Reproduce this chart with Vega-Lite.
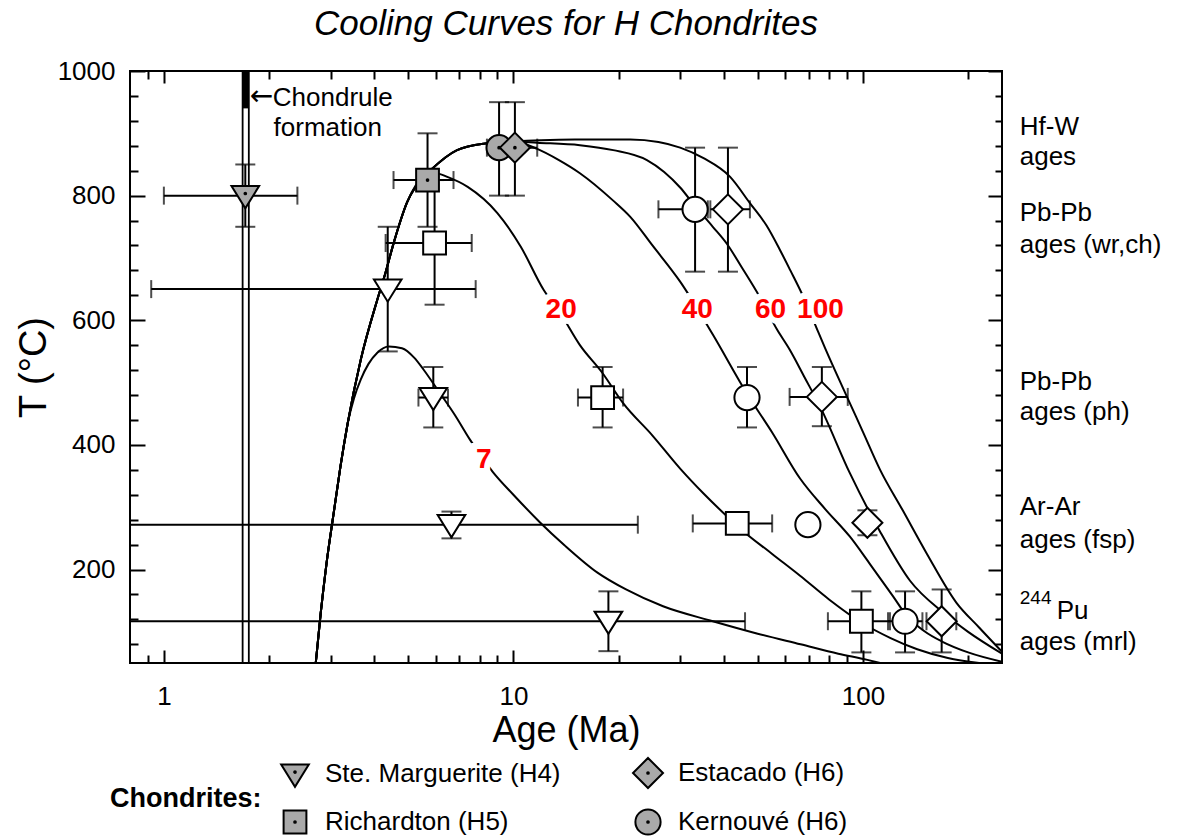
{
 "$schema": "https://vega.github.io/schema/vega-lite/v6.json",
 "width": 872,
 "height": 592,
 "autosize": {"type": "none"},
 "padding": {"left": 130, "top": 71, "right": 180, "bottom": 177},
 "background": "white",
 "title": {"text": "Cooling Curves for H Chondrites", "fontSize": 35, "fontStyle": "italic", "fontWeight": "normal", "font": "Liberation Sans", "color": "black", "anchor": "middle", "offset": 16},
 "datasets": {
  "curves": [
   {"c":"7","age":2.72,"T":50},{"c":"7","age":2.81,"T":130},{"c":"7","age":2.92,"T":210},{"c":"7","age":3.06,"T":290},{"c":"7","age":3.2,"T":365},{"c":"7","age":3.36,"T":436},
   {"c":"7","age":3.5,"T":475},{"c":"7","age":3.66,"T":505},{"c":"7","age":3.85,"T":530},{"c":"7","age":4.08,"T":548},{"c":"7","age":4.4,"T":558},{"c":"7","age":4.8,"T":555},{"c":"7","age":5.2,"T":540},{"c":"7","age":5.53,"T":521},{"c":"7","age":6.06,"T":489},{"c":"7","age":6.8,"T":448},{"c":"7","age":7.52,"T":408},{"c":"7","age":8.75,"T":356},{"c":"7","age":10,"T":320},{"c":"7","age":11.9,"T":276},{"c":"7","age":14,"T":239},{"c":"7","age":17.4,"T":195},{"c":"7","age":21,"T":168},{"c":"7","age":26.8,"T":141},{"c":"7","age":37.2,"T":117},{"c":"7","age":50,"T":97},{"c":"7","age":66.3,"T":80},{"c":"7","age":85,"T":65},{"c":"7","age":103,"T":55},{"c":"7","age":112,"T":50},
   {"c":"20","age":2.72,"T":50},{"c":"20","age":2.81,"T":130},{"c":"20","age":2.92,"T":210},{"c":"20","age":3.06,"T":290},{"c":"20","age":3.2,"T":365},{"c":"20","age":3.36,"T":436},
   {"c":"20","age":3.66,"T":537},{"c":"20","age":4.08,"T":633},{"c":"20","age":4.3,"T":675},{"c":"20","age":4.55,"T":725},{"c":"20","age":4.97,"T":790},{"c":"20","age":5.54,"T":830},
   {"c":"20","age":6.0,"T":836},{"c":"20","age":6.47,"T":830},{"c":"20","age":7.4,"T":814},{"c":"20","age":9,"T":772},{"c":"20","age":10.5,"T":718},{"c":"20","age":12.2,"T":649},{"c":"20","age":13.6,"T":612},{"c":"20","age":15.5,"T":560},{"c":"20","age":18,"T":515},{"c":"20","age":20.6,"T":467},{"c":"20","age":25,"T":415},{"c":"20","age":30,"T":362},{"c":"20","age":35,"T":322},{"c":"20","age":40.9,"T":285},{"c":"20","age":44.5,"T":266},{"c":"20","age":55,"T":225},{"c":"20","age":66.1,"T":190},{"c":"20","age":80,"T":152},{"c":"20","age":99,"T":115},{"c":"20","age":120,"T":90},{"c":"20","age":143,"T":72},{"c":"20","age":175,"T":58},{"c":"20","age":215,"T":50},
   {"c":"40","age":2.72,"T":50},{"c":"40","age":2.81,"T":130},{"c":"40","age":2.92,"T":210},{"c":"40","age":3.06,"T":290},{"c":"40","age":3.2,"T":365},{"c":"40","age":3.36,"T":436},
   {"c":"40","age":3.66,"T":537},{"c":"40","age":4.08,"T":633},{"c":"40","age":4.3,"T":675},{"c":"40","age":4.55,"T":725},{"c":"40","age":4.97,"T":790},{"c":"40","age":5.54,"T":830},
   {"c":"40","age":5.8,"T":841},{"c":"40","age":6.9,"T":873},{"c":"40","age":8.4,"T":884},{"c":"40","age":10,"T":887},
   {"c":"40","age":11.7,"T":875},{"c":"40","age":13.5,"T":857},{"c":"40","age":15.5,"T":836},{"c":"40","age":19.3,"T":792},{"c":"40","age":21.6,"T":766},{"c":"40","age":25,"T":720},{"c":"40","age":30,"T":662},{"c":"40","age":37.2,"T":577},{"c":"40","age":46.6,"T":482},{"c":"40","age":55,"T":420},{"c":"40","age":66.1,"T":346},{"c":"40","age":78,"T":297},{"c":"40","age":91.7,"T":253},{"c":"40","age":105,"T":208},{"c":"40","age":122,"T":157},{"c":"40","age":133,"T":127},{"c":"40","age":150,"T":101},{"c":"40","age":169,"T":84},{"c":"40","age":200,"T":67},{"c":"40","age":250,"T":52},
   {"c":"60","age":2.72,"T":50},{"c":"60","age":2.81,"T":130},{"c":"60","age":2.92,"T":210},{"c":"60","age":3.06,"T":290},{"c":"60","age":3.2,"T":365},{"c":"60","age":3.36,"T":436},
   {"c":"60","age":3.66,"T":537},{"c":"60","age":4.08,"T":633},{"c":"60","age":4.3,"T":675},{"c":"60","age":4.55,"T":725},{"c":"60","age":4.97,"T":790},{"c":"60","age":5.54,"T":830},
   {"c":"60","age":5.8,"T":841},{"c":"60","age":6.9,"T":873},{"c":"60","age":8.4,"T":884},{"c":"60","age":10,"T":887},
   {"c":"60","age":11.7,"T":885},{"c":"60","age":15.5,"T":881},{"c":"60","age":19.3,"T":873},{"c":"60","age":24.1,"T":857},{"c":"60","age":27,"T":838},{"c":"60","age":30,"T":813},{"c":"60","age":33,"T":784},{"c":"60","age":37.2,"T":750},{"c":"60","age":40.9,"T":722},{"c":"60","age":45,"T":685},{"c":"60","age":50.6,"T":638},{"c":"60","age":56.8,"T":585},{"c":"60","age":61.7,"T":553},{"c":"60","age":68,"T":509},{"c":"60","age":75.5,"T":461},{"c":"60","age":91.7,"T":355},{"c":"60","age":111.7,"T":262},{"c":"60","age":136.4,"T":182},{"c":"60","age":169.6,"T":131},{"c":"60","age":200,"T":100},{"c":"60","age":250,"T":65},
   {"c":"100","age":2.72,"T":50},{"c":"100","age":2.81,"T":130},{"c":"100","age":2.92,"T":210},{"c":"100","age":3.06,"T":290},{"c":"100","age":3.2,"T":365},{"c":"100","age":3.36,"T":436},
   {"c":"100","age":3.66,"T":537},{"c":"100","age":4.08,"T":633},{"c":"100","age":4.3,"T":675},{"c":"100","age":4.55,"T":725},{"c":"100","age":4.97,"T":790},{"c":"100","age":5.54,"T":830},
   {"c":"100","age":5.8,"T":841},{"c":"100","age":6.9,"T":873},{"c":"100","age":8.4,"T":884},{"c":"100","age":10,"T":887},
   {"c":"100","age":12,"T":889},{"c":"100","age":15,"T":890},{"c":"100","age":21.6,"T":890},{"c":"100","age":26,"T":886},{"c":"100","age":30,"T":877},{"c":"100","age":35,"T":860},{"c":"100","age":41.7,"T":830},{"c":"100","age":47.5,"T":788},{"c":"100","age":53,"T":752},{"c":"100","age":58,"T":712},{"c":"100","age":62,"T":680},{"c":"100","age":67.5,"T":638},{"c":"100","age":74,"T":585},{"c":"100","age":78,"T":555},{"c":"100","age":89.9,"T":478},{"c":"100","age":100,"T":421},{"c":"100","age":112,"T":360},{"c":"100","age":130,"T":295},{"c":"100","age":152.5,"T":225},{"c":"100","age":185,"T":147},{"c":"100","age":215,"T":107},{"c":"100","age":250,"T":68}
  ],
  "pts": [
   {"chond":"Ste. Marguerite (H4)","kind":"gray","age":1.71,"T":800,"alo":1.0,"ahi":2.41,"tlo":750,"thi":850},
   {"chond":"Ste. Marguerite (H4)","kind":"open","age":4.37,"T":650,"alo":0.92,"ahi":7.8,"tlo":550,"thi":750},
   {"chond":"Ste. Marguerite (H4)","kind":"open","age":5.9,"T":476,"alo":5.35,"ahi":6.5,"tlo":428,"thi":525},
   {"chond":"Ste. Marguerite (H4)","kind":"open","age":6.65,"T":272,"alo":0.5,"ahi":22.7,"tlo":250,"thi":293},
   {"chond":"Ste. Marguerite (H4)","kind":"open","age":18.7,"T":117,"alo":0.5,"ahi":46,"tlo":69,"thi":165},
   {"chond":"Richardton (H5)","kind":"gray","age":5.68,"T":825,"alo":4.54,"ahi":6.74,"tlo":750,"thi":900},
   {"chond":"Richardton (H5)","kind":"open","age":5.95,"T":724,"alo":4.31,"ahi":7.6,"tlo":625,"thi":825},
   {"chond":"Richardton (H5)","kind":"open","age":18,"T":476,"alo":15.3,"ahi":20.6,"tlo":428,"thi":525},
   {"chond":"Richardton (H5)","kind":"open","age":43.7,"T":274,"alo":32.6,"ahi":55,"tlo":null,"thi":null},
   {"chond":"Richardton (H5)","kind":"open","age":99,"T":117,"alo":79.4,"ahi":119.5,"tlo":67,"thi":165},
   {"chond":"Kernouvé (H6)","kind":"gray","age":9.1,"T":877,"alo":8.4,"ahi":10.2,"tlo":800,"thi":950},
   {"chond":"Kernouvé (H6)","kind":"open","age":33.1,"T":778,"alo":26,"ahi":36,"tlo":678,"thi":877},
   {"chond":"Kernouvé (H6)","kind":"open","age":46.6,"T":476,"alo":null,"ahi":null,"tlo":428,"thi":525},
   {"chond":"Kernouvé (H6)","kind":"open","age":69.6,"T":272,"alo":null,"ahi":null,"tlo":null,"thi":null},
   {"chond":"Kernouvé (H6)","kind":"open","age":132,"T":117,"alo":118,"ahi":148,"tlo":67,"thi":165},
   {"chond":"Estacado (H6)","kind":"gray","age":10.1,"T":877,"alo":9.0,"ahi":11.7,"tlo":800,"thi":950},
   {"chond":"Estacado (H6)","kind":"open","age":41.1,"T":778,"alo":36.6,"ahi":47.5,"tlo":678,"thi":877},
   {"chond":"Estacado (H6)","kind":"open","age":76.3,"T":477,"alo":61.7,"ahi":90.5,"tlo":430,"thi":525},
   {"chond":"Estacado (H6)","kind":"open","age":103,"T":275,"alo":null,"ahi":null,"tlo":255,"thi":295},
   {"chond":"Estacado (H6)","kind":"open","age":168,"T":117,"alo":152,"ahi":185,"tlo":67,"thi":168}
  ],
  "chondrule": [{"age":1.68},{"age":1.75}],
  "chondband": [{"age":1.715,"T":940,"T2":1000}],
  "curvelabels": [
   {"text":"7","age":8.23,"T":376},
   {"text":"20","age":13.7,"T":617},
   {"text":"40","age":33.6,"T":617},
   {"text":"60","age":54.4,"T":617},
   {"text":"100","age":75.6,"T":617}
  ],
  "chondtext": [
   {"text":"Chondrule","kind":"word","age":2.05,"T":957},
   {"text":"formation","kind":"word","age":2.06,"T":909},
   {"text":"←","kind":"arrow","age":1.76,"T":959}
  ],
  "notes": [
   {"text":"Hf-W","kind":"main","age":281,"T":910},
   {"text":"ages","kind":"main","age":281,"T":862},
   {"text":"Pb-Pb","kind":"main","age":281,"T":772},
   {"text":"ages (wr,ch)","kind":"main","age":281,"T":721},
   {"text":"Pb-Pb","kind":"main","age":281,"T":501},
   {"text":"ages (ph)","kind":"main","age":281,"T":452},
   {"text":"Ar-Ar","kind":"main","age":281,"T":301},
   {"text":"ages (fsp)","kind":"main","age":281,"T":248},
   {"text":"244","kind":"sup","age":281,"T":154},
   {"text":"Pu","kind":"pu","age":281,"T":134},
   {"text":"ages (mrl)","kind":"main","age":281,"T":83}
  ]
 },
 "layer": [
  {
   "data": {"name": "chondrule"},
   "mark": {"type": "rule", "color": "black", "strokeWidth": 1.8},
   "encoding": {
    "x": {"field": "age", "type": "quantitative", "scale": {"type": "log", "domain": [0.8, 250], "nice": false}, "axis": null}
   }
  },
  {
   "data": {"name": "chondband"},
   "mark": {"type": "rule", "color": "black", "strokeWidth": 6},
   "encoding": {
    "x": {"field": "age", "type": "quantitative", "scale": {"type": "log", "domain": [0.8, 250], "nice": false}, "axis": null},
    "y": {"field": "T", "type": "quantitative", "scale": {"domain": [50, 1000], "nice": false, "zero": false}, "axis": null},
    "y2": {"field": "T2"}
   }
  },
  {
   "data": {"name": "curves"},
   "mark": {"type": "line", "interpolate": "monotone", "color": "black", "strokeWidth": 2, "clip": true},
   "encoding": {
    "x": {"field": "age", "type": "quantitative", "scale": {"type": "log", "domain": [0.8, 250], "nice": false},
     "axis": {"orient": "bottom", "values": [1, 10, 100], "format": "d", "ticks": false,
      "labelOverlap": false, "labelFlush": false, "labelFontSize": 26, "labelPadding": 20,
      "title": "Age (Ma)", "titleFontSize": 36, "titlePadding": 4}},
    "y": {"field": "T", "type": "quantitative", "scale": {"domain": [50, 1000], "nice": false, "zero": false},
     "axis": {"orient": "left", "values": [200, 400, 600, 800, 1000], "format": "d", "ticks": false,
      "labelOverlap": false, "labelFlush": false, "labelFontSize": 26, "labelPadding": 15,
      "title": "T (°C)", "titleFontSize": 38, "titlePadding": 4}},
    "detail": {"field": "c"}
   }
  },
  {
   "data": {"name": "pts"},
   "transform": [{"filter": "datum.alo != null"}],
   "mark": {"type": "rule", "color": "black", "strokeWidth": 2, "clip": true},
   "encoding": {
    "x": {"field": "alo", "type": "quantitative", "scale": {"type": "log", "domain": [0.8, 250], "nice": false}, "axis": null},
    "x2": {"field": "ahi"},
    "y": {"field": "T", "type": "quantitative", "scale": {"domain": [50, 1000], "nice": false, "zero": false}, "axis": null}
   }
  },
  {
   "data": {"name": "pts"},
   "transform": [{"filter": "datum.alo != null"}],
   "mark": {"type": "tick", "orient": "vertical", "color": "black", "size": 18, "thickness": 2, "clip": true},
   "encoding": {
    "x": {"field": "alo", "type": "quantitative", "scale": {"type": "log", "domain": [0.8, 250], "nice": false}, "axis": null},
    "y": {"field": "T", "type": "quantitative", "scale": {"domain": [50, 1000], "nice": false, "zero": false}, "axis": null}
   }
  },
  {
   "data": {"name": "pts"},
   "transform": [{"filter": "datum.ahi != null"}],
   "mark": {"type": "tick", "orient": "vertical", "color": "black", "size": 18, "thickness": 2, "clip": true},
   "encoding": {
    "x": {"field": "ahi", "type": "quantitative", "scale": {"type": "log", "domain": [0.8, 250], "nice": false}, "axis": null},
    "y": {"field": "T", "type": "quantitative", "scale": {"domain": [50, 1000], "nice": false, "zero": false}, "axis": null}
   }
  },
  {
   "data": {"name": "pts"},
   "transform": [{"filter": "datum.tlo != null"}],
   "mark": {"type": "rule", "color": "black", "strokeWidth": 2, "clip": true},
   "encoding": {
    "x": {"field": "age", "type": "quantitative", "scale": {"type": "log", "domain": [0.8, 250], "nice": false}, "axis": null},
    "y": {"field": "tlo", "type": "quantitative", "scale": {"domain": [50, 1000], "nice": false, "zero": false}, "axis": null},
    "y2": {"field": "thi"}
   }
  },
  {
   "data": {"name": "pts"},
   "transform": [{"filter": "datum.tlo != null"}],
   "mark": {"type": "tick", "orient": "horizontal", "color": "black", "size": 20, "thickness": 2, "clip": true},
   "encoding": {
    "x": {"field": "age", "type": "quantitative", "scale": {"type": "log", "domain": [0.8, 250], "nice": false}, "axis": null},
    "y": {"field": "tlo", "type": "quantitative", "scale": {"domain": [50, 1000], "nice": false, "zero": false}, "axis": null}
   }
  },
  {
   "data": {"name": "pts"},
   "transform": [{"filter": "datum.thi != null"}],
   "mark": {"type": "tick", "orient": "horizontal", "color": "black", "size": 20, "thickness": 2, "clip": true},
   "encoding": {
    "x": {"field": "age", "type": "quantitative", "scale": {"type": "log", "domain": [0.8, 250], "nice": false}, "axis": null},
    "y": {"field": "thi", "type": "quantitative", "scale": {"domain": [50, 1000], "nice": false, "zero": false}, "axis": null}
   }
  },
  {
   "data": {"name": "pts"},
   "transform": [{"filter": "datum.kind == 'open'"}],
   "mark": {"type": "point", "filled": true, "fill": "white", "stroke": "black", "strokeWidth": 2, "size": 576, "opacity": 1},
   "encoding": {
    "x": {"field": "age", "type": "quantitative", "scale": {"type": "log", "domain": [0.8, 250], "nice": false}, "axis": null},
    "y": {"field": "T", "type": "quantitative", "scale": {"domain": [50, 1000], "nice": false, "zero": false}, "axis": null},
    "shape": {"field": "chond", "type": "nominal", "legend": null,
     "scale": {"domain": ["Ste. Marguerite (H4)", "Estacado (H6)", "Richardton (H5)", "Kernouvé (H6)"],
      "range": ["M-1.15,-0.8L1.15,-0.8L0,1.05Z", "M0,-1.25L1.25,0L0,1.25L-1.25,0Z", "M-0.95,-0.95L0.95,-0.95L0.95,0.95L-0.95,0.95Z", "M-1.05,0A1.05,1.05 0 1,0 1.05,0A1.05,1.05 0 1,0 -1.05,0Z"]}}
   }
  },
  {
   "data": {"name": "pts"},
   "transform": [{"filter": "datum.kind == 'gray'"}],
   "mark": {"type": "point", "filled": true, "fill": "#a9a9a9", "stroke": "black", "strokeWidth": 2, "size": 576, "opacity": 1},
   "encoding": {
    "x": {"field": "age", "type": "quantitative", "scale": {"type": "log", "domain": [0.8, 250], "nice": false}, "axis": null},
    "y": {"field": "T", "type": "quantitative", "scale": {"domain": [50, 1000], "nice": false, "zero": false}, "axis": null},
    "shape": {"field": "chond", "type": "nominal",
     "scale": {"domain": ["Ste. Marguerite (H4)", "Estacado (H6)", "Richardton (H5)", "Kernouvé (H6)"],
      "range": ["M-1.15,-0.8L1.15,-0.8L0,1.05Z M-0.07,-0.18A0.07,0.07 0 1,0 0.07,-0.18A0.07,0.07 0 1,0 -0.07,-0.18Z", "M0,-1.25L1.25,0L0,1.25L-1.25,0Z M-0.07,0A0.07,0.07 0 1,0 0.07,0A0.07,0.07 0 1,0 -0.07,0Z", "M-0.95,-0.95L0.95,-0.95L0.95,0.95L-0.95,0.95Z M-0.07,0A0.07,0.07 0 1,0 0.07,0A0.07,0.07 0 1,0 -0.07,0Z", "M-1.05,0A1.05,1.05 0 1,0 1.05,0A1.05,1.05 0 1,0 -1.05,0Z M-0.07,0A0.07,0.07 0 1,0 0.07,0A0.07,0.07 0 1,0 -0.07,0Z"]},
     "legend": {"orient": "none", "legendX": -20, "legendY": 689, "direction": "horizontal", "columns": 2,
      "title": "Chondrites:", "titleOrient": "left", "titleFontSize": 27, "titleFontWeight": "bold", "titleColor": "black",
      "titleAnchor": "middle", "titleBaseline": "middle", "titlePadding": 20,
      "labelFontSize": 26, "labelColor": "black", "labelOffset": 17, "labelLimit": 400,
      "columnPadding": 68, "rowPadding": 13, "symbolSize": 576, "symbolStrokeWidth": 2,
      "encode": {"symbols": {"update": {"fill": {"value": "#a9a9a9"}, "stroke": {"value": "black"}, "strokeWidth": {"value": 2}, "opacity": {"value": 1}, "size": {"value": 576}}}}}}
   }
  },
  {
   "data": {"name": "curvelabels"},
   "mark": {"type": "text", "fontSize": 28, "fontWeight": "bold", "fill": "white", "stroke": "white", "strokeWidth": 12, "align": "center", "baseline": "middle"},
   "encoding": {
    "x": {"field": "age", "type": "quantitative", "scale": {"type": "log", "domain": [0.8, 250], "nice": false}, "axis": null},
    "y": {"field": "T", "type": "quantitative", "scale": {"domain": [50, 1000], "nice": false, "zero": false}, "axis": null},
    "text": {"field": "text"}
   }
  },
  {
   "data": {"name": "curvelabels"},
   "mark": {"type": "text", "fontSize": 28, "fontWeight": "bold", "color": "#ff0000", "align": "center", "baseline": "middle"},
   "encoding": {
    "x": {"field": "age", "type": "quantitative", "scale": {"type": "log", "domain": [0.8, 250], "nice": false}, "axis": null},
    "y": {"field": "T", "type": "quantitative", "scale": {"domain": [50, 1000], "nice": false, "zero": false}, "axis": null},
    "text": {"field": "text"}
   }
  },
  {
   "data": {"name": "chondtext"},
   "transform": [{"filter": "datum.kind == 'word'"}],
   "mark": {"type": "text", "fontSize": 26, "color": "black", "align": "left", "baseline": "middle"},
   "encoding": {
    "x": {"field": "age", "type": "quantitative", "scale": {"type": "log", "domain": [0.8, 250], "nice": false}, "axis": null},
    "y": {"field": "T", "type": "quantitative", "scale": {"domain": [50, 1000], "nice": false, "zero": false}, "axis": null},
    "text": {"field": "text"}
   }
  },
  {
   "data": {"name": "chondtext"},
   "transform": [{"filter": "datum.kind == 'arrow'"}],
   "mark": {"type": "text", "fontSize": 28, "font": "DejaVu Sans", "color": "black", "align": "left", "baseline": "middle"},
   "encoding": {
    "x": {"field": "age", "type": "quantitative", "scale": {"type": "log", "domain": [0.8, 250], "nice": false}, "axis": null},
    "y": {"field": "T", "type": "quantitative", "scale": {"domain": [50, 1000], "nice": false, "zero": false}, "axis": null},
    "text": {"field": "text"}
   }
  },
  {
   "data": {"name": "notes"},
   "transform": [{"filter": "datum.kind == 'main'"}],
   "mark": {"type": "text", "fontSize": 26, "color": "black", "align": "left", "baseline": "middle"},
   "encoding": {
    "x": {"field": "age", "type": "quantitative", "scale": {"type": "log", "domain": [0.8, 250], "nice": false}, "axis": null},
    "y": {"field": "T", "type": "quantitative", "scale": {"domain": [50, 1000], "nice": false, "zero": false}, "axis": null},
    "text": {"field": "text"}
   }
  },
  {
   "data": {"name": "notes"},
   "transform": [{"filter": "datum.kind == 'pu'"}],
   "mark": {"type": "text", "fontSize": 26, "color": "black", "align": "left", "baseline": "middle", "dx": 37},
   "encoding": {
    "x": {"field": "age", "type": "quantitative", "scale": {"type": "log", "domain": [0.8, 250], "nice": false}, "axis": null},
    "y": {"field": "T", "type": "quantitative", "scale": {"domain": [50, 1000], "nice": false, "zero": false}, "axis": null},
    "text": {"field": "text"}
   }
  },
  {
   "data": {"name": "notes"},
   "transform": [{"filter": "datum.kind == 'sup'"}],
   "mark": {"type": "text", "fontSize": 19, "color": "black", "align": "left", "baseline": "middle"},
   "encoding": {
    "x": {"field": "age", "type": "quantitative", "scale": {"type": "log", "domain": [0.8, 250], "nice": false}, "axis": null},
    "y": {"field": "T", "type": "quantitative", "scale": {"domain": [50, 1000], "nice": false, "zero": false}, "axis": null},
    "text": {"field": "text"}
   }
  },
  {
   "data": {"name": "chondband"},
   "mark": {"type": "point", "opacity": 0},
   "encoding": {
    "x": {"field": "age", "type": "quantitative", "scale": {"type": "log", "domain": [0.8, 250], "nice": false},
     "axis": {"orient": "bottom", "values": [0.9,2,3,4,5,6,7,8,9,20,30,40,50,60,70,80,90,200], "labels": false, "title": null, "tickSize": 8, "offset": -8}},
    "y": {"field": "T", "type": "quantitative", "scale": {"domain": [50, 1000], "nice": false, "zero": false},
     "axis": {"orient": "left", "values": [80,120,160,240,280,320,360,440,480,520,560,640,680,720,760,840,880,920,960], "labels": false, "title": null, "tickSize": 8, "offset": -8}}
   }
  },
  {
   "data": {"name": "chondband"},
   "mark": {"type": "point", "opacity": 0},
   "encoding": {
    "x": {"field": "age", "type": "quantitative", "scale": {"type": "log", "domain": [0.8, 250], "nice": false},
     "axis": {"orient": "bottom", "values": [1, 10, 100], "labels": false, "title": null, "tickSize": 13, "offset": -13}},
    "y": {"field": "T", "type": "quantitative", "scale": {"domain": [50, 1000], "nice": false, "zero": false},
     "axis": {"orient": "left", "values": [200, 400, 600, 800, 1000], "labels": false, "title": null, "tickSize": 15, "offset": -15}}
   }
  },
  {
   "data": {"name": "chondband"},
   "mark": {"type": "point", "opacity": 0},
   "encoding": {
    "x": {"field": "age", "type": "quantitative", "scale": {"type": "log", "domain": [0.8, 250], "nice": false},
     "axis": {"orient": "top", "values": [0.9,2,3,4,5,6,7,8,9,20,30,40,50,60,70,80,90,200], "labels": false, "title": null, "tickSize": 8, "offset": -8}},
    "y": {"field": "T", "type": "quantitative", "scale": {"domain": [50, 1000], "nice": false, "zero": false},
     "axis": {"orient": "right", "values": [80,120,160,240,280,320,360,440,480,520,560,640,680,720,760,840,880,920,960], "labels": false, "title": null, "tickSize": 7, "offset": -7}}
   }
  },
  {
   "data": {"name": "chondband"},
   "mark": {"type": "point", "opacity": 0},
   "encoding": {
    "x": {"field": "age", "type": "quantitative", "scale": {"type": "log", "domain": [0.8, 250], "nice": false},
     "axis": {"orient": "top", "values": [1, 10, 100], "labels": false, "title": null, "tickSize": 12, "offset": -12}},
    "y": {"field": "T", "type": "quantitative", "scale": {"domain": [50, 1000], "nice": false, "zero": false},
     "axis": {"orient": "right", "values": [200, 400, 600, 800, 1000], "labels": false, "title": null, "tickSize": 14, "offset": -14}}
   }
  }
 ],
 "resolve": {"scale": {"shape": "independent"}, "axis": {"x": "independent", "y": "independent"}},
 "config": {
  "font": "Liberation Sans",
  "view": {"stroke": "black", "strokeWidth": 2},
  "axis": {"domain": false, "grid": false, "labelColor": "black", "titleColor": "black", "tickColor": "black", "tickWidth": 2, "titleFontWeight": "normal", "labelFont": "Liberation Sans", "titleFont": "Liberation Sans"},
  "text": {"font": "Liberation Sans"}
 }
}
